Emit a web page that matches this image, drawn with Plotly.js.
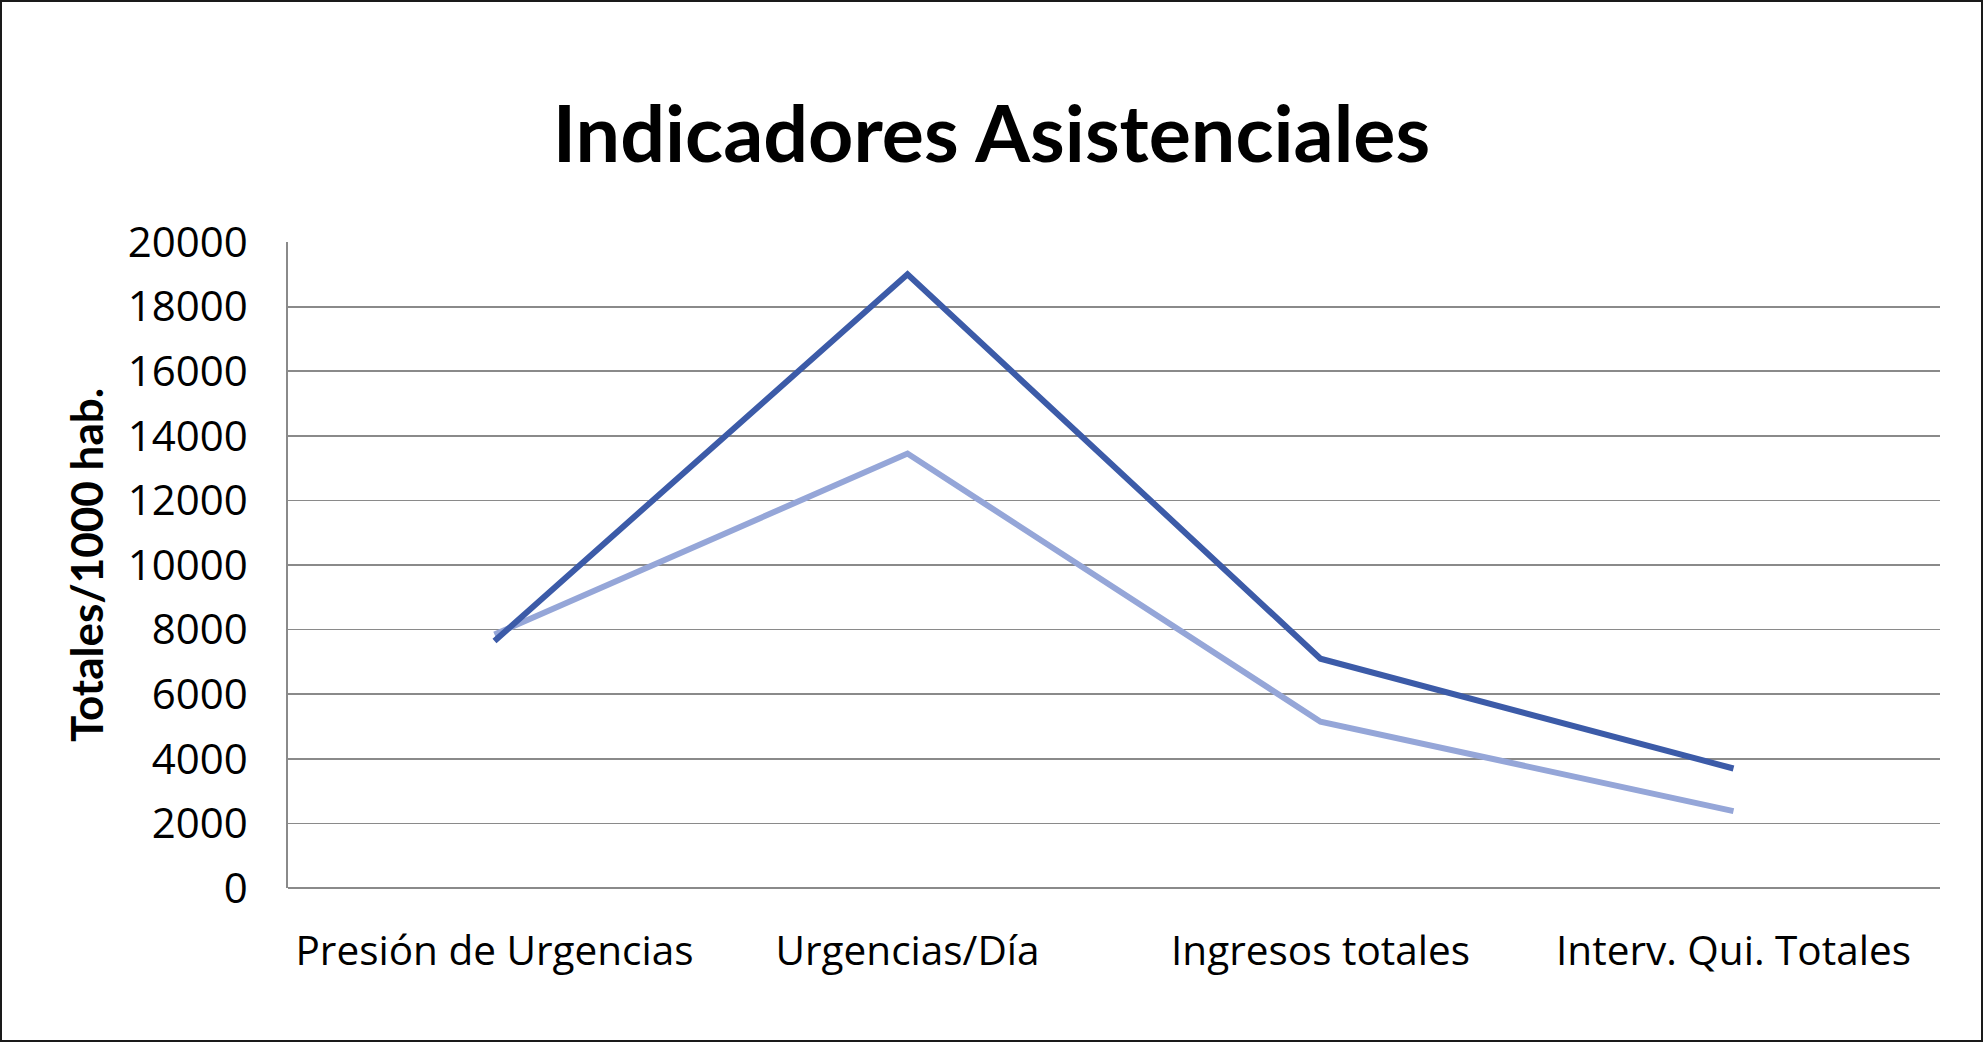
<!DOCTYPE html>
<html>
<head>
<meta charset="utf-8">
<script src="https://cdn.plot.ly/plotly-3.0.1.min.js"></script>
<style>
  html, body { margin: 0; padding: 0; background: #ffffff; }
  #wrap { position: relative; width: 1983px; height: 1042px; }
  #chart { position: absolute; left: 0; top: 0; width: 1983px; height: 1042px; }
  #frame { position: absolute; left: 0; top: 0; width: 1983px; height: 1042px;
           box-sizing: border-box; border: 2px solid #1a1a1a; pointer-events: none; }
</style>
</head>
<body>
<div id="wrap">
  <div id="chart"></div>
  <div id="frame"></div>
</div>
<script>
// ---- data ----
const categorias = ["Presión de Urgencias", "Urgencias/Día", "Ingresos totales", "Interv. Qui. Totales"];
const serieOscura = [7650, 19000, 7100, 3700];
const serieClara  = [7850, 13450, 5150, 2380];
const yTicks = [0, 2000, 4000, 6000, 8000, 10000, 12000, 14000, 16000, 18000, 20000];
const tituloGrafico = "Indicadores Asistenciales";
const tituloEjeY = "Totales/1000 hab.";

const fuenteTitulo = "Lato, 'Open Sans', 'Liberation Sans', sans-serif";
const fuenteTexto = "'Open Sans', Lato, 'Liberation Sans', sans-serif";

const traces = [
  { type: "scatter", mode: "lines", name: "Serie 2", x: categorias, y: serieClara,
    line: { color: "#95a6d8", width: 6 }, hoverinfo: "x+y" },
  { type: "scatter", mode: "lines", name: "Serie 1", x: categorias, y: serieOscura,
    line: { color: "#3c5ba8", width: 6 }, hoverinfo: "x+y" }
];

const layout = {
  width: 1983, height: 1042,
  paper_bgcolor: "#ffffff", plot_bgcolor: "#ffffff",
  showlegend: false,
  margin: { l: 288, r: 43, t: 242, b: 154, pad: 0 },
  font: { family: fuenteTexto, color: "#000000" },
  title: {
    text: "<b>" + tituloGrafico + "</b>",
    font: { family: fuenteTitulo, size: 79, color: "#000000" },
    x: 0.5, xanchor: "center", xref: "container",
    y: 1 - 134 / 1042, yanchor: "middle", yref: "container"
  },
  xaxis: {
    type: "category",
    range: [-0.5, 3.5],
    showgrid: false, zeroline: false, showline: false,
    ticks: "outside", ticklen: 27, tickcolor: "rgba(0,0,0,0)",
    tickfont: { family: fuenteTexto, size: 40.5, color: "#000000" },
    fixedrange: true
  },
  yaxis: {
    range: [0, 20000],
    tickvals: yTicks,
    ticktext: yTicks.map(String),
    showgrid: true, gridcolor: "#8a8a8a", gridwidth: 1.8,
    zeroline: true, zerolinecolor: "#8a8a8a", zerolinewidth: 1.8,
    showline: true, linecolor: "#8a8a8a", linewidth: 1.8,
    ticks: "outside", ticklen: 30, tickcolor: "rgba(0,0,0,0)",
    tickfont: { family: fuenteTexto, size: 42, color: "#000000" },
    title: { text: "<b>" + tituloEjeY + "</b>", font: { family: fuenteTitulo, size: 44, color: "#000000" }, standoff: 10 },
    fixedrange: true
  }
};

Plotly.newPlot("chart", traces, layout, { displayModeBar: false, staticPlot: true });
</script>
</body>
</html>
